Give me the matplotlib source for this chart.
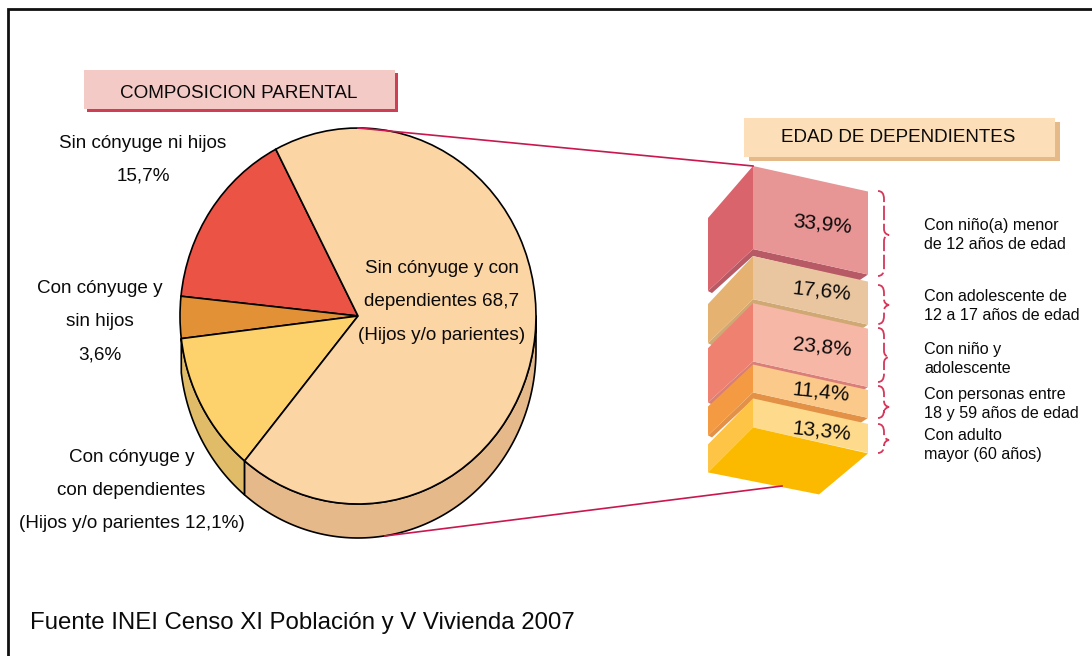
import numpy as np
import matplotlib
matplotlib.use("Agg")
import matplotlib.pyplot as plt
from matplotlib.patches import Polygon, Rectangle, PathPatch
from matplotlib.path import Path

plt.rcParams['font.family'] = ['Liberation Sans', 'DejaVu Sans']

# ---- data ----
pie_labels = ["Sin cónyuge ni hijos", "Con cónyuge y sin hijos",
              "Con cónyuge y con dependientes", "Sin cónyuge y con dependientes"]
pie_values = [15.7, 3.6, 12.1, 68.7]
pie_colors = ["#EB5345", "#E29136", "#FDD16B", "#FCD5A4"]
side_colors = ["#E0BC68", "#E5B98A"]

stack_values = [33.9, 17.6, 23.8, 11.4, 13.3]
stack_texts = ["33,9%", "17,6%", "23,8%", "11,4%", "13,3%"]
stack_front = ["#E89595", "#E9C6A0", "#F7B7A6", "#FBC98A", "#FEDB8C"]
stack_side = ["#D9646C", "#E6B272", "#EF8170", "#F39A42", "#FDC445"]
stack_band = ["#B85A66", "#CFA873", "#D97E78", "#E39146", None]
stack_names = ["Con niño(a) menor\nde 12 años de edad",
               "Con adolescente de\n12 a 17 años de edad",
               "Con niño y\nadolescente",
               "Con personas entre\n18 y 59 años de edad",
               "Con adulto\nmayor (60 años)"]

# ---- layout ----
W, H = 1092, 656
cx, cy, rx, ry, depth = 358, 316, 178, 188, 34
start = 117.5
ink = "#0A0A0A"
fig = plt.figure(figsize=(W / 100, H / 100), dpi=100, facecolor="white")

back = fig.add_axes([0, 0, 1, 1])
back.set_xlim(0, W); back.set_ylim(H, 0); back.axis("off")

# pie thickness
def ell(t, off=0):
    t = np.radians(t)
    return np.c_[cx + rx * np.cos(t), cy - ry * np.sin(t) + off]

share = np.array(pie_values) / sum(pie_values) * 360
b_yb = start + share[:3].sum()
b_oy = start + share[:2].sum()
for a0, a1, c in [(b_oy, b_yb, side_colors[0]), (b_yb, 360, side_colors[1])]:
    t = np.linspace(a0, a1, 100)
    back.add_patch(Polygon(np.r_[ell(t, depth), ell(t[::-1])], closed=True,
                           fc=c, ec="black", lw=1.2, joinstyle="round"))

# pie
pie_ax = fig.add_axes([(cx - rx) / W, (H - cy - ry) / H, 2 * rx / W, 2 * ry / H])
pie_ax.pie(pie_values, colors=pie_colors, startangle=start, counterclock=True, radius=1,
           wedgeprops=dict(edgecolor="black", linewidth=1.2, clip_on=False))
pie_ax.set_aspect("auto")
pie_ax.set_xlim(-1, 1); pie_ax.set_ylim(-1, 1)

top = fig.add_axes([0, 0, 1, 1])
top.set_xlim(0, W); top.set_ylim(H, 0); top.axis("off"); top.patch.set_alpha(0)

# frame (top and left only)
top.plot([8, 8, W], [H, 9, 9], color="#111111", lw=2.0, solid_joinstyle="miter")

# header boxes
def header(x, y, w, h, fc, sc, txt, off, dy):
    top.add_patch(Rectangle((x + off[0], y + off[1]), w, h, fc=sc, ec="none"))
    top.add_patch(Rectangle((x, y), w, h, fc=fc, ec="none"))
    top.text(x + w / 2 - 1, y + h / 2 + dy, txt, ha="center", va="center", fontsize=13.6, color=ink)
header(84, 70, 311, 39, "#F3CAC6", "#CE3F55", "COMPOSICION PARENTAL", (3, 3), 3.6)
header(744, 118, 311, 39, "#FCDFB8", "#E6BA88", "EDAD DE DEPENDIENTES", (5, 4), 0.4)

# connector lines
line_c = "#C8184F"
top.plot([358, 753], [128, 166], color=line_c, lw=1.2)

# stack
scale = 2.45
xl, xf, xr = 708, 753, 868
slope = 25.5
gaps = [7, 4, 3, 6, 0]
side_top = [52, 48, 45, 42, 46]
side_bot = [42, 44, 41, 43, 45]
y = 166
base_y = None
for i, v in enumerate(stack_values):
    h = v * scale
    if i == 4:
        h = 29
    b = y + h
    if stack_band[i]:
        top.add_patch(Polygon([(xf, b), (xr, b + slope), (xr - 9, b + slope + 6), (xf, b + 7),
                               (xl + 4, b + side_bot[i] + 2), (xl, b + side_bot[i])],
                              closed=True, fc=stack_band[i], ec="none"))
    top.add_patch(Polygon([(xf, y), (xl, y + side_top[i]), (xl, b + side_bot[i]), (xf, b)],
                          closed=True, fc=stack_side[i], ec="none"))
    top.add_patch(Polygon([(xf, y), (xr, y + slope), (xr, b + slope), (xf, b)],
                          closed=True, fc=stack_front[i], ec="none"))
    y = b + gaps[i]
    base_y = b
# base
top.add_patch(Polygon([(xf, base_y), (xr, base_y + 26), (819, base_y + 67), (xl, base_y + 45)],
                      closed=True, fc="#FBBA00", ec="none"))
top.plot([385, 782], [536, 486], color=line_c, lw=1.2)

# percent labels
pct_pos = [(822, 224), (822, 291), (822, 347), (821, 392), (822, 431)]
for (px, py), t in zip(pct_pos, stack_texts):
    top.text(px, py, t, ha="center", va="center", fontsize=15, rotation=-6,
             rotation_mode="anchor", color=ink)

# braces
def brace(y0, y1, ytip):
    verts = [(878, y0), (884, y0), (884, y0 + 8),
             (884, ytip - 6), (884, ytip - 1), (889, ytip),
             (884, ytip + 1), (884, ytip + 6),
             (884, y1 - 8), (884, y1), (878, y1)]
    codes = [Path.MOVETO, Path.CURVE3, Path.CURVE3, Path.LINETO, Path.CURVE3, Path.CURVE3,
             Path.CURVE3, Path.CURVE3, Path.LINETO, Path.CURVE3, Path.CURVE3]
    top.add_patch(PathPatch(Path(verts, codes), fc="none", ec="#D6375A", lw=1.3,
                            linestyle=(0, (8, 2))))
for y0, y1, yt in [(191, 276, 235), (285, 324, 305), (328, 382, 357), (386, 418, 407), (424, 453, 440)]:
    brace(y0, y1, yt)

# right labels
name_y = [235, 306, 359, 404, 445]
for ny, t in zip(name_y, stack_names):
    top.text(924, ny, t, ha="left", va="center", fontsize=11.6, color=ink, linespacing=1.26)

# pie labels
def mlabel(x, ys, lines):
    for yy, s in zip(ys, lines):
        top.text(x, yy, s, ha="center", va="center", fontsize=13.6, color=ink)
mlabel(143, [143, 176], ["Sin cónyuge ni hijos", "15,7%"])
mlabel(100, [288.5, 321.5, 354.5], ["Con cónyuge y", "sin hijos", "3,6%"])
mlabel(131.5, [457, 490.5, 524], ["Con cónyuge y", "con dependientes", "(Hijos y/o parientes 12,1%)"])
mlabel(442, [268.5, 301.5, 335], ["Sin cónyuge y con", "dependientes 68,7", "(Hijos y/o parientes)"])

top.text(30, 622.5, "Fuente INEI Censo XI Población y V Vivienda 2007", ha="left", va="center",
         fontsize=17.3, color=ink)

fig.savefig("out.png", dpi=100)
